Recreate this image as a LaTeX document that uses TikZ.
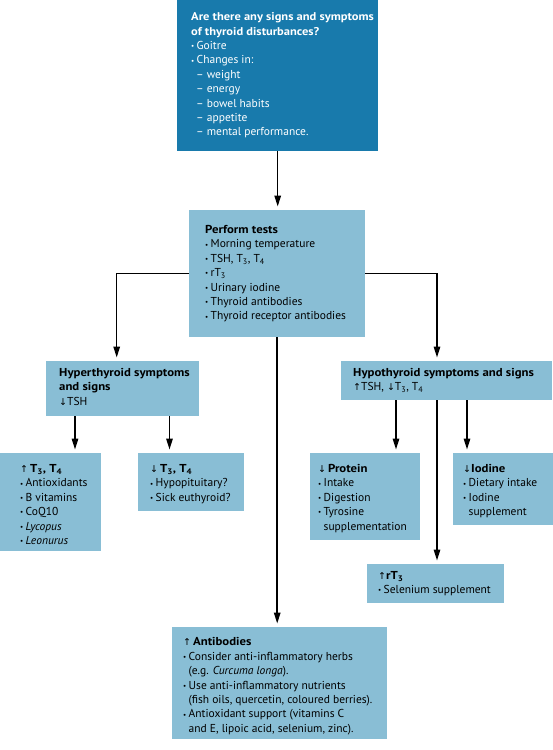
\documentclass[tikz,border=0pt]{standalone}
\usepackage{fontspec}
\setmainfont{PT Sans}[BoldFeatures={FakeStretch=1.11}]
\newfontfamily\arrf{DejaVu Sans}
\usetikzlibrary{arrows.meta,calc}
\definecolor{darkb}{RGB}{24,122,172}
\definecolor{lightb}{RGB}{137,190,213}
\newcommand\bul{\makebox[5.5pt][l]{\raisebox{0.15ex}{\scriptsize •}}}
\newcommand\ind{\hspace*{5.5pt}}
\newcommand\up{{\arrf\fontsize{9.5}{9.5}\selectfont ↑}}
\newcommand\dn{{\arrf\fontsize{9.5}{9.5}\selectfont ↓}}
\newcommand\Tn[1]{T\textsubscript{#1}}
\newcommand\bt[5]{\parbox[t][#2pt][t]{#1pt}{\raggedright\leftskip=#3pt\relax\fontsize{11.5}{14.4}\selectfont\vspace*{\dimexpr#4pt-10.08pt\relax}\strut#5}}
\tikzset{
  lbox/.style={fill=lightb, inner sep=0pt, anchor=north west, text=black},
  dbox/.style={fill=darkb, inner sep=0pt, anchor=north west, text=white},
  arr/.style={line width=1.5pt, -{Triangle[length=11pt,width=6.5pt]}, shorten >=3.5pt},
  ln/.style={line width=1.5pt}
}
\begin{document}
\begin{tikzpicture}[x=1pt,y=-1pt]
\fill[white] (0,0) rectangle (553,750);
\useasboundingbox (0,0) rectangle (553,750);

\node[dbox] (top) at (177,0) {\bt{201}{151}{14}{20.5}{%
{\fontsize{11.25}{14.4}\selectfont\bfseries Are there any signs and symptoms\\ of thyroid disturbances?}\\
\bul Goitre\\
\bul Changes in:\\
\hspace*{5pt}– weight\\
\hspace*{5pt}– energy\\
\hspace*{5pt}– bowel habits\\
\hspace*{5pt}– appetite\\
\hspace*{5pt}– mental performance.}};

\node[lbox] (tests) at (189,210) {\bt{176}{127}{16}{23.3}{%
{\bfseries Perform tests}\\
\bul Morning temperature\\
\bul TSH, \Tn{3}, \Tn{4}\\
\bul r\Tn{3}\\
\bul Urinary iodine\\
\bul Thyroid antibodies\\
\bul Thyroid receptor antibodies}};

\node[lbox] (hyper) at (46,361) {\bt{153}{55}{13}{15}{%
{\bfseries Hyperthyroid symptoms\\ and signs}\\
\dn TSH}};

\node[lbox] (hypo) at (341,361) {\bt{211}{39}{12}{15}{%
{\bfseries Hypothyroid symptoms and signs}\\
\up TSH, \dn\Tn{3}, \Tn{4}}};

\node[lbox] (upT) at (0,453) {\bt{101}{98}{20}{19.3}{%
\up\,{\bfseries \Tn{3}, \Tn{4}}\\
\bul Antioxidants\\
\bul B vitamins\\
\bul CoQ10\\
\bul \textit{Lycopus}\\
\bul \textit{Leonurus}}};

\node[lbox] (dnT) at (138,453) {\bt{106}{58}{12}{19.3}{%
\dn\,{\bfseries \Tn{3}, \Tn{4}}\\
\bul Hypopituitary?\\
\bul Sick euthyroid?}};

\node[lbox] (prot) at (310,453) {\bt{110}{87}{8}{19.3}{%
\dn\,{\bfseries Protein}\\
\bul Intake\\
\bul Digestion\\
\bul Tyrosine\\
\ind supplementation}};

\node[lbox] (iod) at (453,453) {\bt{100}{72}{10}{19.3}{%
\dn{\bfseries Iodine}\\
\bul Dietary intake\\
\bul Iodine\\
\ind supplement}};

\node[lbox] (rt) at (367,564) {\bt{137}{39}{11}{15}{%
\up{\bfseries r\Tn{3}}\\
\bul Selenium supplement}};

\node[lbox] (anti) at (172,627) {\bt{215}{112}{11}{18.7}{%
\up\,{\bfseries Antibodies}\\
\bul Consider anti-inflammatory herbs\\
\ind (e.g. \textit{Curcuma longa}).\\
\bul Use anti-inflammatory nutrients\\
\ind (fish oils, quercetin, coloured berries).\\
\bul Antioxidant support (vitamins C\\
\ind and E, lipoic acid, selenium, zinc).}};

% connectors
\draw[arr] (top.south) -- (top.south |- tests.north);
\draw[arr] (tests.west) -| ($(hyper.north west)+(70.7,0)$);
\draw[arr] (tests.east) -| ($(hypo.north west)+(96,0)$);
\draw[arr] (tests.south) -- (tests.south |- anti.north);
\coordinate (h1) at ($(hyper.south west)+(29,0)$);
\coordinate (h2) at ($(hyper.south west)+(123.5,0)$);
\draw[arr] (h1) -- (h1 |- upT.north);
\draw[arr] (h2) -- (h2 |- dnT.north);
\coordinate (p1) at ($(hypo.south west)+(55,0)$);
\coordinate (p2) at ($(hypo.south west)+(96,0)$);
\coordinate (p3) at ($(hypo.south west)+(126,0)$);
\draw[arr] (p1) -- (p1 |- prot.north);
\draw[arr] (p2) -- (p2 |- rt.north);
\draw[arr] (p3) -- (p3 |- iod.north);
\end{tikzpicture}
\end{document}
